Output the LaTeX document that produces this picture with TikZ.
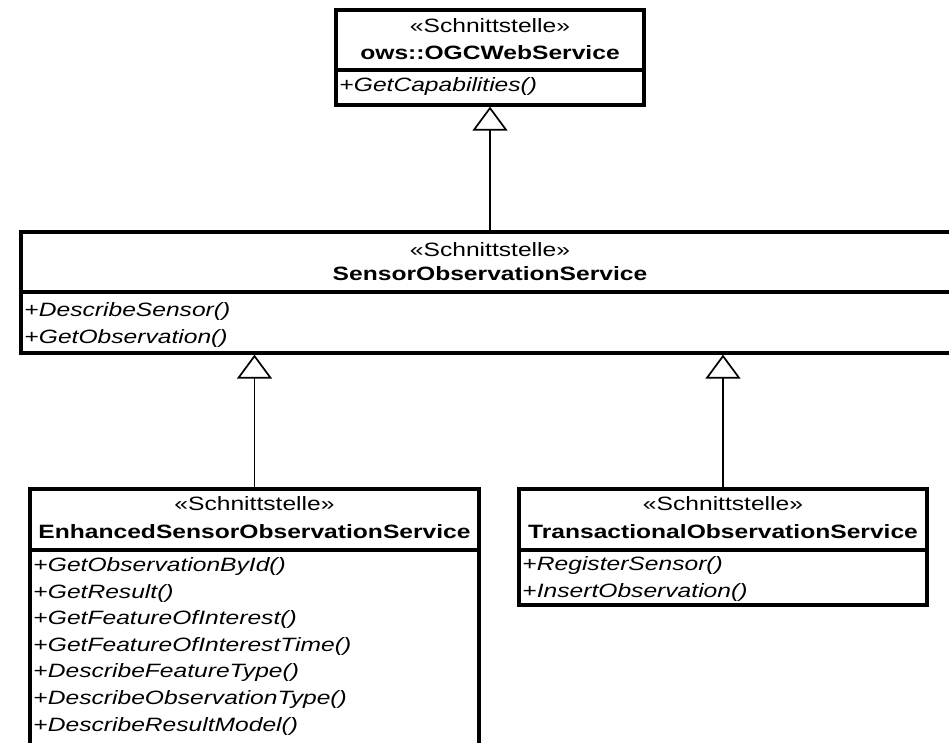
\documentclass[tikz,border=0pt]{standalone}
\usepackage{fontspec}
\setmainfont[FakeStretch=1.275]{Liberation Sans}
\usetikzlibrary{arrows.meta}

\tikzset{
  part/.style={draw=black, line width=3.3pt, rectangle, inner sep=0pt, outer sep=1.65pt, fill=white},
  txt/.style={inner sep=0pt, outer sep=0pt, anchor=base, font=\fontsize{19.3pt}{26.7pt}\selectfont},
  stereo/.style={txt},
  cname/.style={txt, font=\fontsize{19.3pt}{26.7pt}\selectfont\bfseries},
  op/.style={txt, anchor=base west, font=\fontsize{19.3pt}{26.7pt}\selectfont\itshape},
  gen/.style={line width=1.2pt, -{Triangle[open, length=24pt, width=35pt, line width=1.7pt]}}
}

\newcommand{\plusop}[1]{\textup{+}#1}

\begin{document}
\begin{tikzpicture}[x=1pt, y=-1pt]
  \clip (0,0) rectangle (949,743);
  \fill[white] (0,0) rectangle (949,743);

  % ows::OGCWebService
  \node[part, minimum width=308pt, minimum height=60pt] (owsH) at (490,40) {};
  \node[part, minimum width=308pt, minimum height=35pt] (owsO) at (490,87.5) {};
  \node[stereo] (owsS) at (490,33) {«Schnittstelle»};
  \node[cname]  (owsN) at (490,60) {ows::OGCWebService};
  \node[op] (owsO1) at (339.5,92) {\plusop{GetCapabilities()}};

  % SensorObservationService
  \node[part, minimum width=939pt, minimum height=60pt] (sosH) at (490.5,262) {};
  \node[part, minimum width=939pt, minimum height=61pt] (sosO) at (490.5,322.5) {};
  \node[stereo] (sosS) at (490,256.5) {«Schnittstelle»};
  \node[cname]  (sosN) at (490,280) {SensorObservationService};
  \node[op] (sosO1) at (24.5,316.5) {\plusop{DescribeSensor()}};
  \node[op] (sosO2) at (24.5,343) {\plusop{GetObservation()}};

  % EnhancedSensorObservationService
  \node[part, minimum width=449pt, minimum height=61pt] (esoH) at (254.5,519.5) {};
  \node[part, minimum width=449pt, minimum height=250pt] (esoO) at (254.5,675) {};
  \node[stereo] (esoS) at (254.5,510) {«Schnittstelle»};
  \node[cname]  (esoN) at (254.5,538) {EnhancedSensorObservationService};
  \node[op] (esoO1) at (33.5,571.3) {\plusop{GetObservationById()}};
  \node[op] (esoO2) at (33.5,598)   {\plusop{GetResult()}};
  \node[op] (esoO3) at (33.5,624.6) {\plusop{GetFeatureOfInterest()}};
  \node[op] (esoO4) at (33.5,651.2) {\plusop{GetFeatureOfInterestTime()}};
  \node[op] (esoO5) at (33.5,677.8) {\plusop{DescribeFeatureType()}};
  \node[op] (esoO6) at (33.5,704.4) {\plusop{DescribeObservationType()}};
  \node[op] (esoO7) at (33.5,731)   {\plusop{DescribeResultModel()}};

  % TransactionalObservationService
  \node[part, minimum width=408pt, minimum height=61pt] (tosH) at (723,519.5) {};
  \node[part, minimum width=408pt, minimum height=55pt] (tosO) at (723,577.5) {};
  \node[stereo] (tosS) at (723,510) {«Schnittstelle»};
  \node[cname]  (tosN) at (723,538) {TransactionalObservationService};
  \node[op] (tosO1) at (522.5,570.7) {\plusop{RegisterSensor()}};
  \node[op] (tosO2) at (522.5,597.3) {\plusop{InsertObservation()}};

  % generalisations
  \draw[gen] (sosH.north -| owsO.south) -- (owsO.south);
  \draw[gen] (esoH.north) -- (esoH.north |- sosO.south);
  \draw[gen] (tosH.north) -- (tosH.north |- sosO.south);
\end{tikzpicture}
\end{document}
